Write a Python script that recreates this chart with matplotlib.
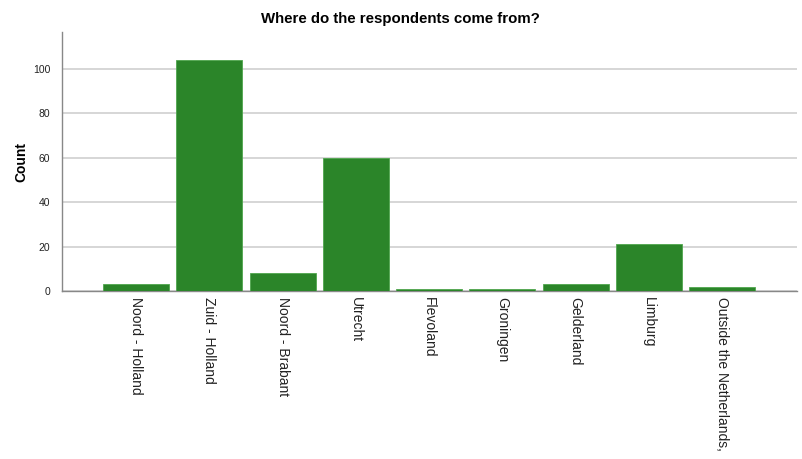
import matplotlib
matplotlib.use("Agg")
import matplotlib.pyplot as plt

categories = ["Noord - Holland", "Zuid - Holland", "Noord - Brabant", "Utrecht",
              "Flevoland", "Groningen", "Gelderland", "Limburg",
              "Outside the Netherlands,"]
counts = [3, 104, 8, 60, 1, 1, 3, 21, 2]
yticks = [0, 20, 40, 60, 80, 100]

plt.rcParams['font.family'] = ['Liberation Sans', 'DejaVu Sans']

fig = plt.figure(figsize=(8.02, 4.59), dpi=100)
ax = fig.add_axes([62/802, 1-291/459, (797-62)/802, (291-32)/459])

x = list(range(len(categories)))
ax.bar(x, counts, width=0.9, color="#2b8529", edgecolor="#4fa64d", linewidth=0.6, zorder=3)

ax.set_xlim(-1.01, 9.02)
ax.set_ylim(0, 116.7)
ax.set_yticks(yticks)
ax.set_yticklabels([str(v) for v in yticks], fontsize=7.5, color="#222222")
ax.yaxis.grid(True, color="#d0d0d0", linewidth=1.2, zorder=0)
ax.set_axisbelow(True)
ax.set_xticks(x)
ax.set_xticklabels(categories, rotation=-90, ha="center", va="top", fontsize=10, color="#222222")
ax.tick_params(axis="both", length=0, pad=4)
ax.tick_params(axis="y", pad=8.5)

for s in ["top", "right"]:
    ax.spines[s].set_visible(False)
for s in ["left", "bottom"]:
    ax.spines[s].set_color("#888888")
    ax.spines[s].set_linewidth(1.0)

ax.set_ylabel("Count", fontsize=10, fontweight="bold", labelpad=3.5)
fig.text(400/802, 1-19/459, "Where do the respondents come from?", ha="center", va="center",
         fontsize=10.8, fontweight="bold")

fig.savefig("out.png", dpi=100)
